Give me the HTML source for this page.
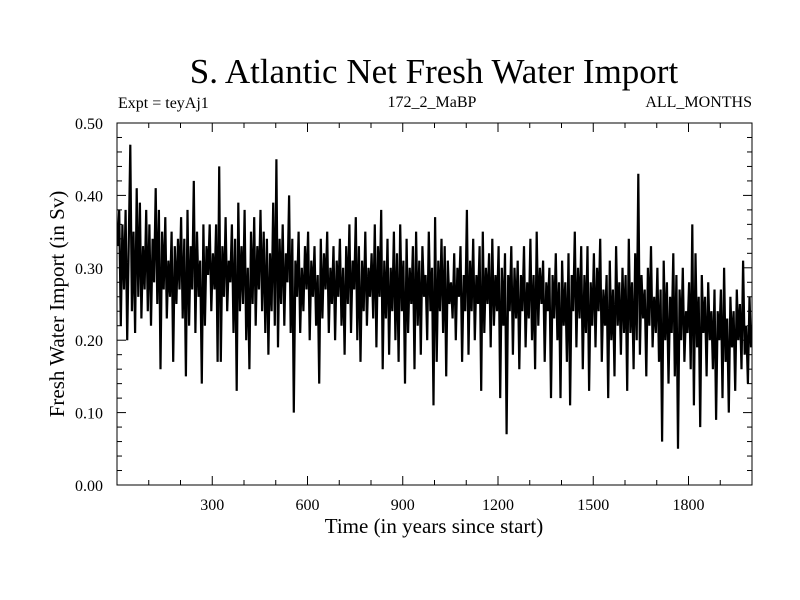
<!DOCTYPE html>
<html><head><meta charset="utf-8"><style>
body{margin:0;background:#fff}
svg{display:block;font-family:"Liberation Serif",serif}
</style></head><body>
<svg id="chart" width="800" height="600" xmlns="http://www.w3.org/2000/svg">
<rect width="800" height="600" fill="#fff"/>
<text x="434" y="83" font-size="35" text-anchor="middle">S. Atlantic Net Fresh Water Import</text>
<text x="118" y="108" font-size="16">Expt = teyAj1</text>
<text x="432" y="107" font-size="16" text-anchor="middle">172_2_MaBP</text>
<text x="752" y="107" font-size="16" text-anchor="end">ALL_MONTHS</text>
<text transform="translate(64,304) rotate(-90)" font-size="21" text-anchor="middle">Fresh Water Import (in Sv)</text>
<text x="434" y="533" font-size="21" text-anchor="middle">Time (in years since start)</text>
<g id="ticks"></g>
<path id="series" fill="none" stroke="#000" stroke-width="2.2" stroke-linejoin="miter"/>
<rect x="117" y="123" width="635" height="362" fill="none" stroke="#000" stroke-width="1"/>
</svg>
<script>
const years0 = 0, yearStep = 5;
const values = [
0.33,0.38,0.22,0.36,0.27,0.38,0.20,0.33,0.47,0.24,0.35,0.21,0.41,0.26,0.39,0.23,0.33,0.27,0.38,0.24,
0.36,0.22,0.34,0.28,0.41,0.25,0.38,0.16,0.35,0.27,0.37,0.23,0.31,0.26,0.35,0.17,0.33,0.25,0.34,0.27,
0.37,0.23,0.34,0.15,0.38,0.22,0.33,0.27,0.42,0.21,0.35,0.26,0.31,0.14,0.36,0.22,0.33,0.29,0.36,0.24,
0.32,0.27,0.36,0.17,0.44,0.17,0.33,0.26,0.37,0.24,0.31,0.28,0.36,0.21,0.34,0.13,0.39,0.24,0.33,0.25,
0.38,0.20,0.30,0.16,0.35,0.25,0.37,0.22,0.33,0.27,0.38,0.24,0.35,0.21,0.34,0.18,0.32,0.24,0.39,0.22,
0.45,0.19,0.34,0.25,0.36,0.22,0.32,0.28,0.40,0.21,0.34,0.10,0.31,0.26,0.35,0.21,0.30,0.24,0.33,0.27,
0.35,0.20,0.31,0.26,0.33,0.22,0.29,0.14,0.34,0.23,0.32,0.27,0.35,0.21,0.30,0.25,0.33,0.20,0.31,0.26,
0.34,0.22,0.30,0.18,0.33,0.25,0.36,0.21,0.31,0.27,0.37,0.20,0.33,0.17,0.31,0.24,0.35,0.22,0.30,0.26,
0.32,0.23,0.36,0.19,0.33,0.26,0.38,0.16,0.31,0.23,0.34,0.18,0.30,0.24,0.35,0.20,0.32,0.17,0.36,0.24,
0.31,0.14,0.34,0.21,0.30,0.25,0.33,0.16,0.35,0.22,0.31,0.18,0.33,0.26,0.29,0.20,0.35,0.24,0.30,0.11,
0.37,0.17,0.31,0.24,0.34,0.21,0.33,0.15,0.31,0.25,0.28,0.23,0.32,0.20,0.30,0.26,0.33,0.17,0.29,0.24,
0.38,0.18,0.31,0.24,0.34,0.20,0.29,0.25,0.33,0.13,0.35,0.21,0.30,0.25,0.32,0.19,0.34,0.22,0.29,0.24,
0.33,0.12,0.30,0.22,0.32,0.07,0.29,0.24,0.33,0.18,0.30,0.23,0.31,0.16,0.29,0.24,0.33,0.19,0.28,0.23,
0.34,0.20,0.29,0.16,0.35,0.22,0.30,0.25,0.31,0.17,0.28,0.24,0.30,0.12,0.29,0.23,0.32,0.20,0.28,0.12,
0.31,0.22,0.28,0.17,0.32,0.11,0.29,0.24,0.35,0.19,0.30,0.23,0.33,0.16,0.29,0.21,0.33,0.13,0.28,0.22,
0.32,0.19,0.30,0.24,0.34,0.17,0.27,0.22,0.29,0.12,0.31,0.20,0.27,0.15,0.33,0.22,0.28,0.18,0.30,0.21,
0.29,0.13,0.34,0.21,0.28,0.16,0.32,0.20,0.43,0.18,0.29,0.23,0.27,0.15,0.30,0.22,0.33,0.19,0.26,0.21,
0.30,0.17,0.27,0.06,0.31,0.20,0.28,0.14,0.26,0.21,0.32,0.15,0.29,0.05,0.27,0.20,0.30,0.17,0.24,0.21,
0.28,0.16,0.36,0.11,0.32,0.19,0.26,0.08,0.29,0.21,0.26,0.15,0.28,0.20,0.24,0.16,0.27,0.09,0.24,0.20,
0.27,0.12,0.30,0.17,0.23,0.10,0.26,0.19,0.24,0.13,0.27,0.20,0.25,0.16,0.31,0.18,0.22,0.14,0.26,0.19
];
const xTickLabels = [300,600,900,1200,1500,1800];
const yTickLabels = ["0.00","0.10","0.20","0.30","0.40","0.50"];

const L=117,R=752,T=123,B=485, XMIN=0, XMAX=2000, YMIN=0, YMAX=0.5;
const sx=v=>L+(v-XMIN)/(XMAX-XMIN)*(R-L);
const sy=v=>B-(v-YMIN)/(YMAX-YMIN)*(B-T);
const NS="http://www.w3.org/2000/svg";
const g=document.getElementById('ticks');
function line(x1,y1,x2,y2,name){const l=document.createElementNS(NS,'line');
l.setAttribute('x1',x1);l.setAttribute('y1',y1);l.setAttribute('x2',x2);l.setAttribute('y2',y2);
l.setAttribute('stroke','#000');l.setAttribute('stroke-width','1');


g.appendChild(l);}
function text(x,y,s,anchor,name){const t=document.createElementNS(NS,'text');
t.setAttribute('x',x);t.setAttribute('y',y);t.setAttribute('font-size','16');t.setAttribute('text-anchor',anchor);t.textContent=s;


g.appendChild(t);}
for(let yr=100;yr<XMAX;yr+=100){const x=sx(yr);const major=yr%300===0;const len=major?9:5;
line(x,B,x,B-len,'x-tick');line(x,T,x,T+len,'x-tick-top');}
xTickLabels.forEach(v=>text(sx(v),B+25,String(v),'middle','x-tick-label'));
for(let i=0;i<=25;i++){const v=i*0.02;const y=sy(v);const major=i%5===0;const len=major?9:5;
line(L,y,L+len,y,'y-tick');line(R,y,R-len,y,'y-tick-right');}
yTickLabels.forEach(s=>text(L-14,sy(parseFloat(s))+6,s,'end','y-tick-label'));
let d='';values.forEach((v,i)=>{d+=(i?'L':'M')+sx(years0+i*yearStep+2).toFixed(1)+','+sy(v).toFixed(1);});
document.getElementById('series').setAttribute('d',d);
</script>
</body></html>
